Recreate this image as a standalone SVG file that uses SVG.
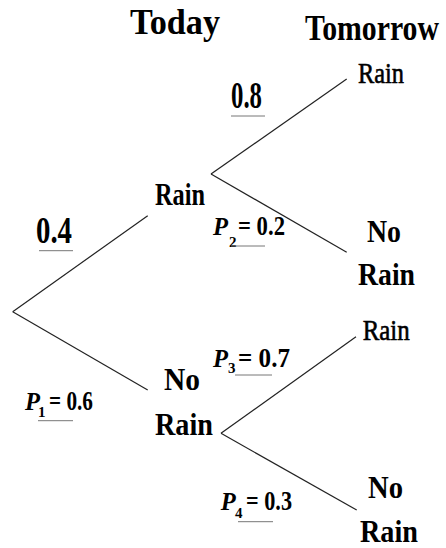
<svg xmlns="http://www.w3.org/2000/svg" width="446" height="548" viewBox="0 0 446 548">
<style>
text{font-family:"Liberation Serif","Times New Roman",serif;fill:#000}
.h{font-size:36px;font-weight:bold}
.n{font-size:31px;font-weight:bold}
.r{font-size:29px;stroke:#000;stroke-width:0.6}
.pr{font-size:37px;font-weight:bold}
.p{font-size:26px;font-weight:bold;font-style:italic}
.s{font-size:15px;font-weight:bold}
.e{font-size:27px;font-weight:bold}
.u{stroke:#777;stroke-width:1}
.c{stroke:#222;stroke-width:1.2;fill:none}
</style>
<rect width="446" height="548" fill="#fff"/>
<g id="headers">
<text class="h" x="130" y="34" textLength="90" lengthAdjust="spacingAndGlyphs">Today</text>
<text class="h" x="305" y="40" textLength="134" lengthAdjust="spacingAndGlyphs">Tomorrow</text>
</g>
<g id="connectors">
<line class="c" x1="12.7" y1="311.7" x2="147.7" y2="215.7"/>
<line class="c" x1="12.7" y1="311.7" x2="147.7" y2="390"/>
<line class="c" x1="211" y1="174" x2="346.7" y2="79"/>
<line class="c" x1="211" y1="174" x2="346.7" y2="252.3"/>
<line class="c" x1="221" y1="433.3" x2="356" y2="336.7"/>
<line class="c" x1="221" y1="433.3" x2="356.7" y2="510"/>
</g>
<g id="node-today-rain">
<text class="n" x="155" y="205" textLength="50" lengthAdjust="spacingAndGlyphs">Rain</text>
</g>
<g id="node-today-norain">
<text class="n" x="164" y="390" textLength="36" lengthAdjust="spacingAndGlyphs">No</text>
<text class="n" x="155" y="435" textLength="58" lengthAdjust="spacingAndGlyphs">Rain</text>
</g>
<g id="node-rr">
<text class="r" x="358" y="83" textLength="46" lengthAdjust="spacingAndGlyphs">Rain</text>
</g>
<g id="node-rn">
<text class="n" x="367" y="241.7" textLength="34" lengthAdjust="spacingAndGlyphs">No</text>
<text class="n" x="358" y="285" textLength="57" lengthAdjust="spacingAndGlyphs">Rain</text>
</g>
<g id="node-nr">
<text class="r" x="362.7" y="340" textLength="47" lengthAdjust="spacingAndGlyphs">Rain</text>
</g>
<g id="node-nn">
<text class="n" x="368" y="498" textLength="35" lengthAdjust="spacingAndGlyphs">No</text>
<text class="n" x="360" y="541.7" textLength="58" lengthAdjust="spacingAndGlyphs">Rain</text>
</g>
<g id="label-08">
<text class="pr" x="231" y="108" textLength="31" lengthAdjust="spacingAndGlyphs">0.8</text>
<line class="u" x1="231" y1="116" x2="265" y2="116"/>
</g>
<g id="label-04">
<text class="pr" x="36" y="243" textLength="36" lengthAdjust="spacingAndGlyphs">0.4</text>
<line class="u" x1="39" y1="250.7" x2="73" y2="250.7"/>
</g>
<g id="label-p2">
<text class="p" x="213" y="235" textLength="15" lengthAdjust="spacingAndGlyphs">P</text>
<text class="s" x="229" y="246.5">2</text>
<text class="e" x="238" y="235" textLength="47" lengthAdjust="spacingAndGlyphs">= 0.2</text>
<line class="u" x1="231" y1="246" x2="265" y2="246"/>
</g>
<g id="label-p3">
<text class="p" x="213" y="366.7" textLength="15" lengthAdjust="spacingAndGlyphs">P</text>
<text class="s" x="228" y="373">3</text>
<text class="e" x="238" y="366.7" textLength="52" lengthAdjust="spacingAndGlyphs">= 0.7</text>
<line class="u" x1="235" y1="375" x2="272" y2="375"/>
</g>
<g id="label-p1">
<text class="p" x="25" y="410" textLength="15" lengthAdjust="spacingAndGlyphs">P</text>
<text class="s" x="38" y="417">1</text>
<text class="e" x="49" y="410" textLength="44" lengthAdjust="spacingAndGlyphs">= 0.6</text>
<line class="u" x1="38" y1="420.7" x2="73" y2="420.7"/>
</g>
<g id="label-p4">
<text class="p" x="220.7" y="510" textLength="15" lengthAdjust="spacingAndGlyphs">P</text>
<text class="s" x="235" y="518">4</text>
<text class="e" x="246" y="510" textLength="46" lengthAdjust="spacingAndGlyphs">= 0.3</text>
<line class="u" x1="238" y1="521.7" x2="273" y2="521.7"/>
</g>
</svg>
